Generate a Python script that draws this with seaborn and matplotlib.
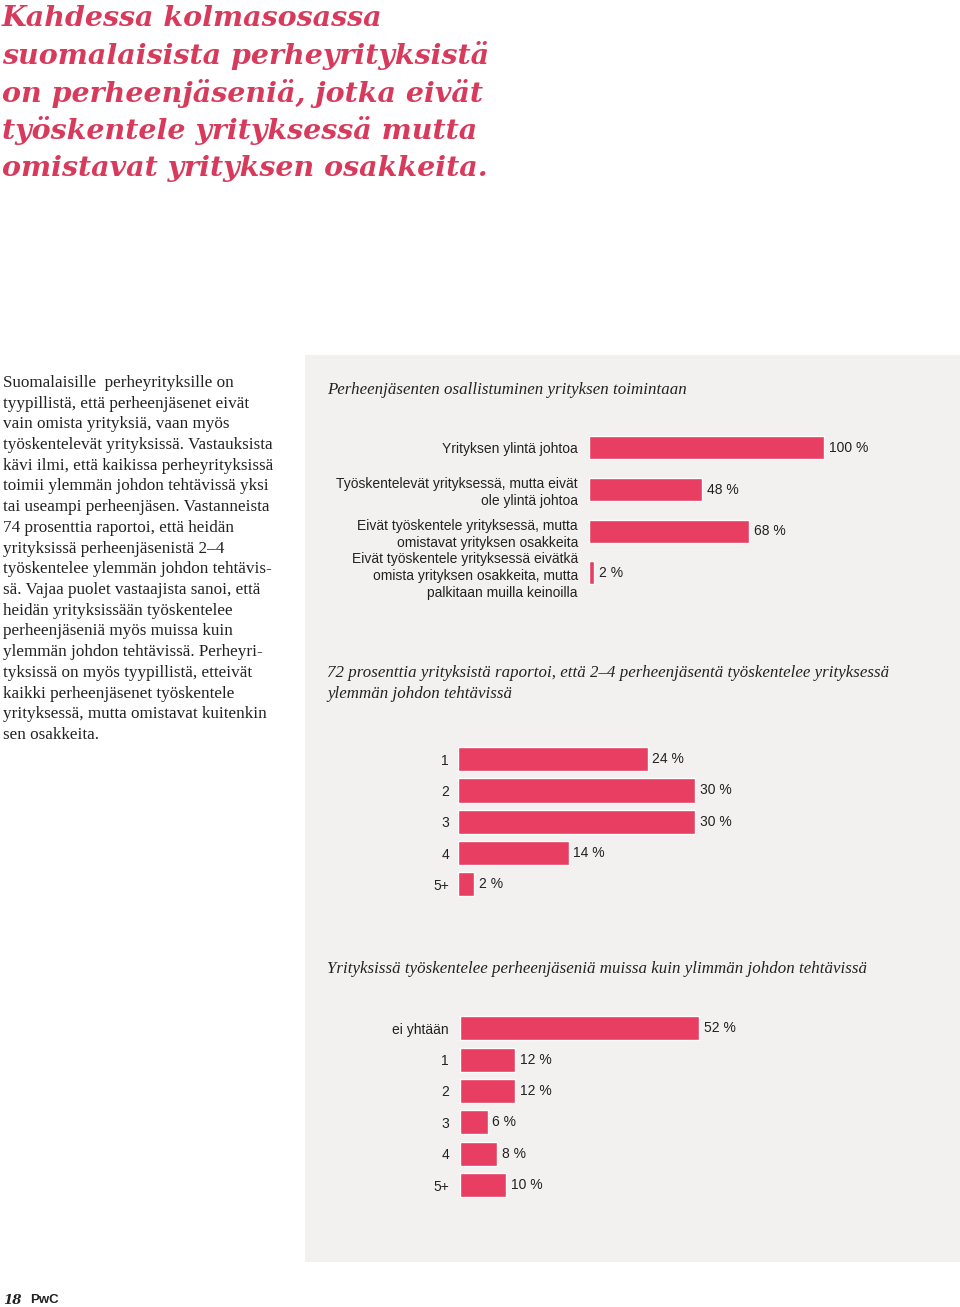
import matplotlib.pyplot as plt
import pandas as pd
import seaborn as sns
from matplotlib.patches import Rectangle

# ---- data -------------------------------------------------------------
roles = [
    "Yrityksen ylintä johtoa",
    "Työskentelevät yrityksessä, mutta eivät\nole ylintä johtoa",
    "Eivät työskentele yrityksessä, mutta\nomistavat yrityksen osakkeita",
    "Eivät työskentele yrityksessä eivätkä\nomista yrityksen osakkeita, mutta\npalkitaan muilla keinoilla",
]
role_pct = [100, 48, 68, 2]

mgmt_counts = ["1", "2", "3", "4", "5+"]
mgmt_pct = [24, 30, 30, 14, 2]

other_counts = ["ei yhtään", "1", "2", "3", "4", "5+"]
other_pct = [52, 12, 12, 6, 8, 10]

title_lines = [
    "Kahdessa kolmasosassa",
    "suomalaisista perheyrityksistä",
    "on perheenjäseniä, jotka eivät",
    "työskentele yrityksessä mutta",
    "omistavat yrityksen osakkeita.",
]

body_lines = [
    "Suomalaisille  perheyrityksille on",
    "tyypillistä, että perheenjäsenet eivät",
    "vain omista yrityksiä, vaan myös",
    "työskentelevät yrityksissä. Vastauksista",
    "kävi ilmi, että kaikissa perheyrityksissä",
    "toimii ylemmän johdon tehtävissä yksi",
    "tai useampi perheenjäsen. Vastanneista",
    "74 prosenttia raportoi, että heidän",
    "yrityksissä perheenjäsenistä 2–4",
    "työskentelee ylemmän johdon tehtävis-",
    "sä. Vajaa puolet vastaajista sanoi, että",
    "heidän yrityksissään työskentelee",
    "perheenjäseniä myös muissa kuin",
    "ylemmän johdon tehtävissä. Perheyri-",
    "tyksissä on myös tyypillistä, etteivät",
    "kaikki perheenjäsenet työskentele",
    "yrityksessä, mutta omistavat kuitenkin",
    "sen osakkeita.",
]

PINK = "#e83e62"
TITLE_PINK = "#d83a5c"
PANEL = "#f2f1f0"
TEXT = "#222222"
W, H = 960, 1307

sns.set_theme(style="white")
plt.rcParams["font.family"] = ["Liberation Sans", "DejaVu Sans"]

fig = plt.figure(figsize=(W / 100, H / 100), dpi=100)
fig.patch.set_facecolor("white")


def fx(x):
    return x / W


def fy(y):
    return 1 - y / H


# grey panel on the right (behind the axes)
fig.patches.append(Rectangle((fx(305), fy(1262)), fx(960) - fx(305), fy(355) - fy(1262),
                             transform=fig.transFigure, facecolor=PANEL, edgecolor="none",
                             zorder=-5))

# headline
for i, line in enumerate(title_lines):
    fig.text(fx(2), fy(18 + i * 37.6), line, fontsize=20.5, color=TITLE_PINK,
             family="DejaVu Serif", fontweight="bold", fontstyle="italic", va="center", ha="left")

# body text
for i, line in enumerate(body_lines):
    fig.text(fx(3), fy(383 + i * 20.7), line, fontsize=12.3, color=TEXT,
             family="Liberation Serif", va="center", ha="left")

# footer
fig.text(fx(3), fy(1300), "18", fontsize=9.5, family="DejaVu Serif", fontweight="bold",
         fontstyle="italic", color=TEXT, va="center")
fig.text(fx(30), fy(1300), "PwC", fontsize=9.5, fontweight="bold", color=TEXT, va="center")


def bar_panel(cats, vals, left, top, row_h, px_per_unit, width_px, bar_frac, title, title_xy, pad):
    n = len(cats)
    ax = fig.add_axes([fx(left), fy(top + n * row_h), width_px / W, n * row_h / H])
    df = pd.DataFrame({"cat": cats, "val": vals})
    sns.barplot(data=df, x="val", y="cat", orient="h", color=PINK, saturation=1,
                width=bar_frac, ax=ax)
    ax.set_xlim(0, width_px / px_per_unit)
    ax.set_ylim(n - 0.5, -0.5)
    ax.set_facecolor("none")
    for s in ax.spines.values():
        s.set_visible(False)
    ax.set_xticks([])
    ax.set_xlabel("")
    ax.set_ylabel("")
    ax.tick_params(axis="y", length=0, pad=pad, labelsize=10, labelcolor=TEXT)
    for lab in ax.get_yticklabels():
        lab.set_linespacing(1.25)
    ax.bar_label(ax.containers[0], labels=[f"{v} %" for v in vals], padding=3.5,
                 fontsize=10, color=TEXT)
    for j, t in enumerate(title):
        fig.text(fx(title_xy[0]), fy(title_xy[1] + j * 21), t, fontsize=12.2,
                 family="Liberation Serif", fontstyle="italic", color=TEXT,
                 va="center", ha="left")
    return ax


bar_panel(roles, role_pct, left=589, top=427, row_h=41.7, px_per_unit=2.35,
          width_px=330, bar_frac=0.55,
          title=["Perheenjäsenten osallistuminen yrityksen toimintaan"], title_xy=(327, 390),
          pad=8)

bar_panel(mgmt_counts, mgmt_pct, left=458, top=743.5, row_h=31.3, px_per_unit=7.9,
          width_px=400, bar_frac=0.77,
          title=["72 prosenttia yrityksistä raportoi, että 2–4 perheenjäsentä työskentelee yrityksessä",
                 "ylemmän johdon tehtävissä"], title_xy=(327, 673), pad=6.5)

bar_panel(other_counts, other_pct, left=460, top=1012.5, row_h=31.4, px_per_unit=4.6,
          width_px=400, bar_frac=0.77,
          title=["Yrityksissä työskentelee perheenjäseniä muissa kuin ylimmän johdon tehtävissä"],
          title_xy=(327, 969), pad=8)

fig.savefig("out.png", dpi=100, facecolor=fig.get_facecolor())
